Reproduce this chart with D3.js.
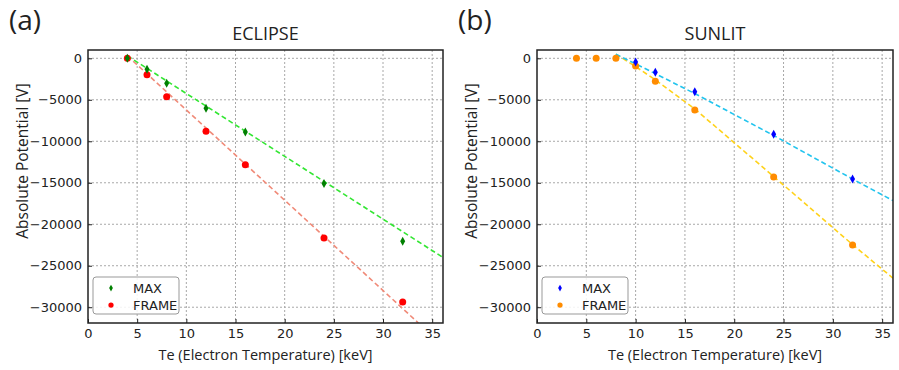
<!DOCTYPE html>
<html>
<head>
<meta charset="utf-8">
<script src="https://cdn.jsdelivr.net/npm/d3@7"></script>
<style>
  body { margin: 0; background: #fff; }
  svg text { fill: #222; }
</style>
</head>
<body>
<div id="chart"></div>
<script>
// Te in keV
const temps = [4, 6, 8, 12, 16, 24, 32];
const sunlitTemps = [4, 6, 8, 10, 12, 16, 24, 32];

// ECLIPSE
const eclipseMax = [0, -1325, -3010, -6025, -8880, -15100, -22050];
const eclipseFrame = [0, -1975, -4620, -8800, -12820, -21650, -29360];
const eclipseMaxFitX = [4, 36.1];
const eclipseMaxFitY = [300, -24000];
const eclipseFrameFitX = [4, 33.6];
const eclipseFrameFitY = [300, -31900];

// SUNLIT (MAX only from 10 keV)
const sunlitMaxTemps = [10, 12, 16, 24, 32];
const sunlitMax = [-445, -1690, -4020, -9160, -14540];
const sunlitFrame = [0, 0, 0, -930, -2770, -6230, -14300, -22500];
const sunlitMaxFitX = [8, 12, 16, 24, 32, 36.1];
const sunlitMaxFitY = [500, -1850, -4250, -9300, -14550, -17150];
const sunlitFrameFitX = [8, 10, 12, 16, 24, 32, 36.1];
const sunlitFrameFitY = [500, -1000, -2600, -6100, -14250, -22450, -26500];

const xTicks = [0, 5, 10, 15, 20, 25, 30, 35];
const yTicks = [0, -5000, -10000, -15000, -20000, -25000, -30000];

const panels = [
  {
    tag: "(a)", title: "ECLIPSE", left: 88, right: 443, tagX: 9,
    series: [
      { name: "MAX", xs: temps, ys: eclipseMax, color: "#008000", marker: "diamond" },
      { name: "FRAME", xs: temps, ys: eclipseFrame, color: "#ff0000", marker: "circle" }
    ],
    fits: [
      { xs: eclipseFrameFitX, ys: eclipseFrameFitY, color: "#f08a78" },
      { xs: eclipseMaxFitX, ys: eclipseMaxFitY, color: "#33e633" }
    ]
  },
  {
    tag: "(b)", title: "SUNLIT", left: 537, right: 893, tagX: 458,
    series: [
      { name: "MAX", xs: sunlitMaxTemps, ys: sunlitMax, color: "#0000ff", marker: "diamond" },
      { name: "FRAME", xs: sunlitTemps, ys: sunlitFrame, color: "#ff8c00", marker: "circle" }
    ],
    fits: [
      { xs: sunlitFrameFitX, ys: sunlitFrameFitY, color: "#ffd21a" },
      { xs: sunlitMaxFitX, ys: sunlitMaxFitY, color: "#22c4ee" }
    ]
  }
];

const width = 899, height = 370;
const plotTop = 50, plotBottom = 323;

const svg = d3.select("#chart").append("svg")
  .attr("width", width)
  .attr("height", height);

const fmt = v => v < 0 ? "\u2212" + Math.abs(v) : String(v);

function drawMarker(g, type, cx, cy, color, s = 1) {
  if (type === "diamond") {
    g.append("path")
      .attr("d", `M${cx},${cy - 4.5 * s}L${cx + 2.5 * s},${cy}L${cx},${cy + 4.5 * s}L${cx - 2.5 * s},${cy}Z`)
      .attr("fill", color);
  } else {
    g.append("circle")
      .attr("cx", cx).attr("cy", cy).attr("r", 3.5 * s)
      .attr("fill", color);
  }
}

panels.forEach(p => {
  const x = d3.scaleLinear().domain([0, 36.1]).range([p.left, p.right]);
  const y = d3.scaleLinear().domain([-31900, 1000]).range([plotBottom, plotTop]);
  const g = svg.append("g");

  const clipId = "clip-" + p.title;
  svg.append("clipPath").attr("id", clipId)
    .append("rect")
    .attr("x", p.left).attr("y", plotTop)
    .attr("width", p.right - p.left).attr("height", plotBottom - plotTop);

  // grid
  const grid = g.append("g").attr("stroke", "#a8a8a8").attr("stroke-width", 1)
    .attr("stroke-dasharray", "2,2");
  xTicks.forEach(t => {
    if (t === 0) return;
    grid.append("line").attr("x1", x(t)).attr("x2", x(t)).attr("y1", plotTop).attr("y2", plotBottom);
  });
  yTicks.forEach(t => {
    grid.append("line").attr("x1", p.left).attr("x2", p.right).attr("y1", y(t)).attr("y2", y(t));
  });

  // axes
  const xAxis = g.append("g")
    .attr("transform", `translate(0,${plotBottom})`)
    .call(d3.axisBottom(x).tickValues(xTicks).tickFormat(d3.format("d")).tickSize(-4).tickPadding(6));
  xAxis.select(".domain").remove();
  xAxis.selectAll("line").attr("stroke", "#222");
  xAxis.selectAll("text").style("font-family", "DejaVu Sans").style("font-size", "13px").attr("fill", "#333");

  const yAxis = g.append("g")
    .attr("transform", `translate(${p.left},0)`)
    .call(d3.axisLeft(y).tickValues(yTicks).tickFormat(fmt).tickSize(-4).tickPadding(6));
  yAxis.select(".domain").remove();
  yAxis.selectAll("line").attr("stroke", "#222");
  yAxis.selectAll("text").style("font-family", "DejaVu Sans").style("font-size", "13px").attr("fill", "#333");

  // fit lines
  const line = d3.line().x(d => x(d[0])).y(d => y(d[1]));
  p.fits.forEach(f => {
    g.append("path")
      .datum(d3.zip(f.xs, f.ys))
      .attr("clip-path", `url(#${clipId})`)
      .attr("d", line)
      .attr("fill", "none")
      .attr("stroke", f.color)
      .attr("stroke-width", 1.6)
      .attr("stroke-dasharray", "5,3");
  });

  // points (MAX drawn after FRAME so diamonds sit above)
  [p.series[1], p.series[0]].forEach(s => {
    s.xs.forEach((t, i) => drawMarker(g, s.marker, x(t), y(s.ys[i]), s.color));
  });

  // frame
  g.append("rect")
    .attr("x", p.left).attr("y", plotTop)
    .attr("width", p.right - p.left).attr("height", plotBottom - plotTop)
    .attr("fill", "none").attr("stroke", "#222").attr("stroke-width", 1.5);

  // legend
  const lg = g.append("g").attr("transform", `translate(${p.left + 5},277)`);
  lg.append("rect")
    .attr("width", 86).attr("height", 37).attr("rx", 3)
    .attr("fill", "#fff").attr("fill-opacity", 0.85)
    .attr("stroke", "#999").attr("stroke-width", 1);
  p.series.forEach((s, i) => {
    const ly = 11 + i * 17;
    drawMarker(lg, s.marker, 18, ly, s.color, 0.75);
    lg.append("text")
      .attr("x", 40).attr("y", ly)
      .attr("dy", "0.35em")
      .style("font-family", "DejaVu Sans").style("font-size", "13px")
      .attr("fill", "#222")
      .text(s.name);
  });

  // titles and labels
  svg.append("text")
    .attr("x", (p.left + p.right) / 2).attr("y", 40)
    .attr("text-anchor", "middle")
    .style("font-family", "Open Sans").style("font-size", "18px")
    .text(p.title);
  svg.append("text")
    .attr("x", p.tagX).attr("y", 30)
    .style("font-family", "Open Sans").style("font-size", "28px")
    .text(p.tag);
  svg.append("text")
    .attr("x", (p.left + p.right) / 2).attr("y", 360)
    .attr("text-anchor", "middle")
    .style("font-family", "Open Sans").style("font-size", "14.5px")
    .text("Te (Electron Temperature) [keV]");
  svg.append("text")
    .attr("transform", `translate(${p.left - 60},161) rotate(-90)`)
    .attr("text-anchor", "middle")
    .style("font-family", "Open Sans").style("font-size", "15.5px")
    .text("Absolute Potential [V]");
});
</script>
</body>
</html>
